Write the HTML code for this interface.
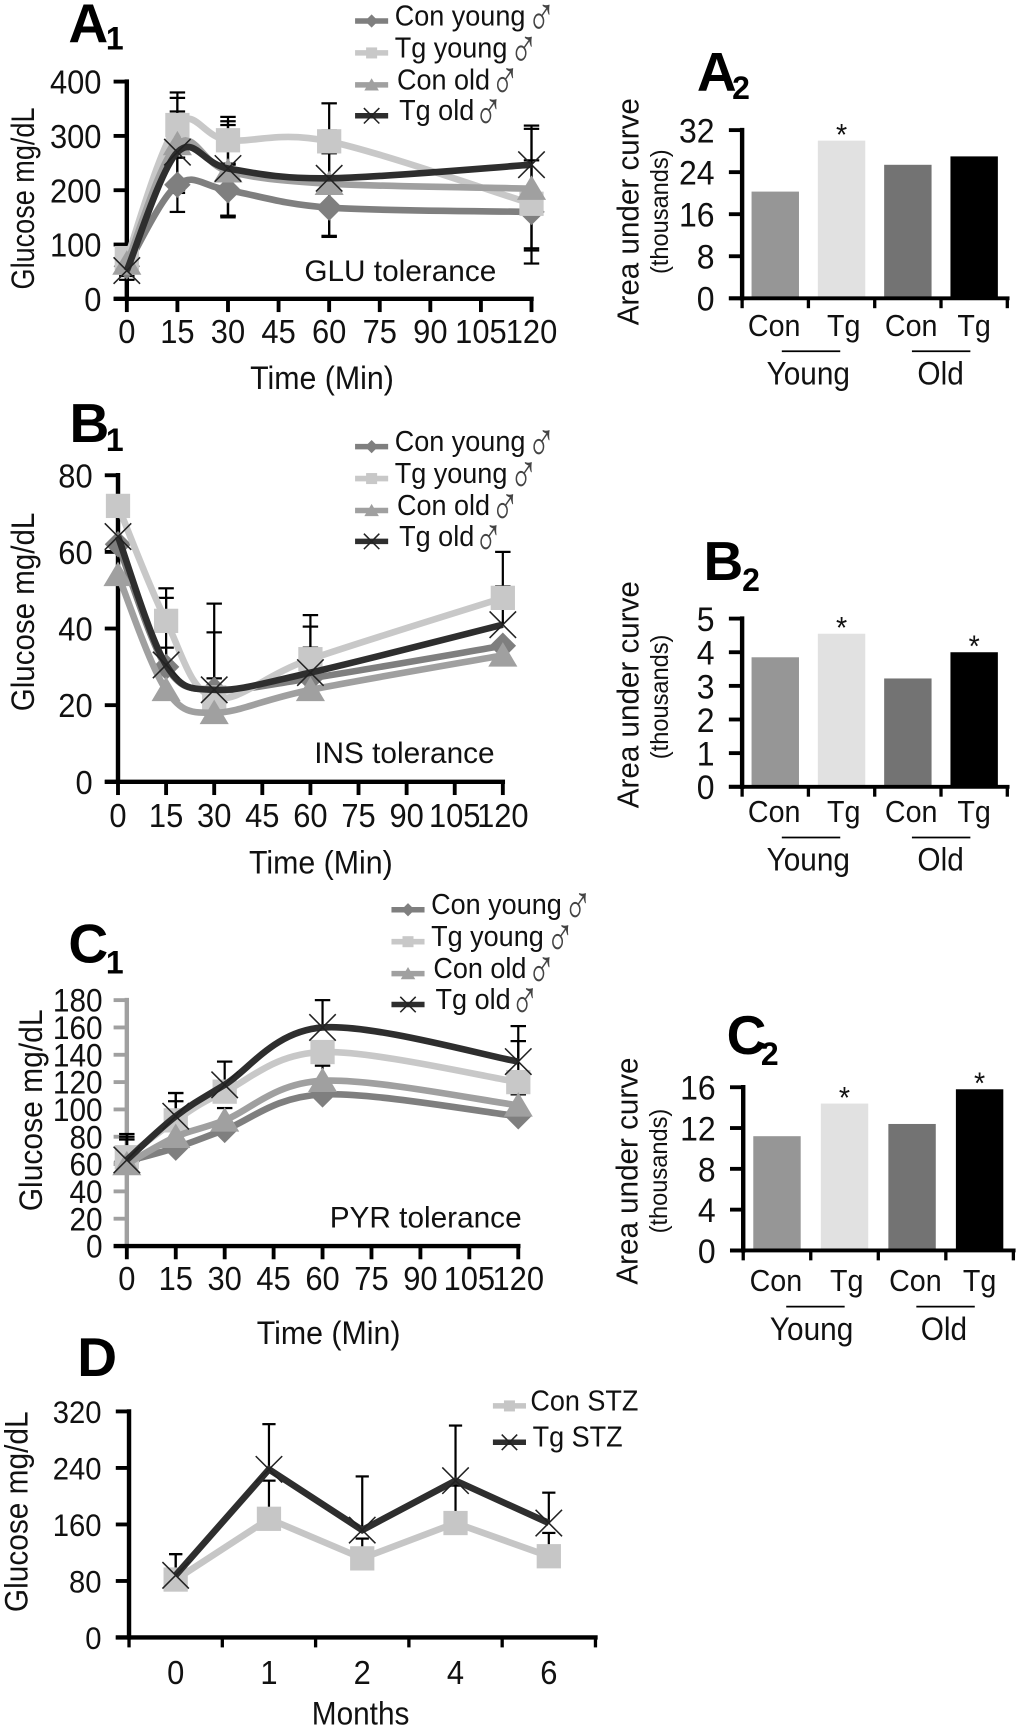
<!DOCTYPE html>
<html lang="en">
<head>
<meta charset="utf-8">
<title>Glucose tolerance figure</title>
<style>
html,body{margin:0;padding:0;background:#fff;}
#figure{display:block;width:1020px;height:1729px;}
text{font-family:"Liberation Sans",Arial,sans-serif;fill:#111;}
.heading{font-weight:bold;fill:#000;}
</style>
</head>
<body>
<svg id="figure" xmlns="http://www.w3.org/2000/svg" viewBox="0 0 925 1568" width="1020" height="1729">
<rect x="0" y="0" width="925" height="1568" fill="#fff"/>
<g><text class="heading" x="62" y="38" font-size="50">A</text><text class="heading" x="96" y="45" font-size="29">1</text></g>
<g><text class="heading" x="632" y="82" font-size="50">A</text><text class="heading" x="664" y="90" font-size="29">2</text></g>
<g><text class="heading" x="63" y="401" font-size="50">B</text><text class="heading" x="96" y="409" font-size="29">1</text></g>
<g><text class="heading" x="638" y="526" font-size="50">B</text><text class="heading" x="673" y="536" font-size="29">2</text></g>
<g><text class="heading" x="62" y="873" font-size="50">C</text><text class="heading" x="96" y="883" font-size="29">1</text></g>
<g><text class="heading" x="659" y="956" font-size="50">C</text><text class="heading" x="690" y="966" font-size="29">2</text></g>
<g><text class="heading" x="70" y="1248" font-size="50">D</text></g>
<text x="276" y="255" font-size="27">GLU tolerance</text>
<text x="285" y="692" font-size="27">INS tolerance</text>
<text x="299" y="1113" font-size="27">PYR tolerance</text>
</svg>
<script>
// Shared categories
const timeTickLabels = [0, 15, 30, 45, 60, 75, 90, 105, 120];
const timePoints = [0, 15, 30, 60, 120];
const barCategories = ['Con', 'Tg', 'Con', 'Tg'];
const barColors = ['#969696', '#e1e1e1', '#737373', '#000000'];
const monthCategories = ['0', '1', '2', '4', '6'];

// Panel A1: GLU tolerance
const a1Ticks = [0, 100, 200, 300, 400];
const a1ConYoung = [60, 210, 200, 168, 160];
const a1TgYoung = [75, 320, 292, 290, 175];
const a1ConOld = [65, 285, 235, 212, 203];
const a1TgOld = [52, 270, 240, 222, 247];
const a1ConYoungErrUp = [15, 50, 47, 50, 95];
const a1ConYoungErrDown = [25, 50, 47, 52, 95];
const a1TgYoungErrUp = [15, 60, 43, 70, 10];
const a1TgYoungErrDown = [15, 60, 43, 22, 10];
const a1ConOldErrUp = [10, 85, 85, 98, 110];
const a1ConOldErrDown = [10, 85, 85, 98, 110];
const a1TgOldErrUp = [10, 75, 87, 48, 72];
const a1TgOldErrDown = [10, 75, 87, 48, 158];

// Panel A2: AUC
const a2Ticks = [0, 8, 16, 24, 32];
const a2Values = [20.3, 30, 25.4, 27];
const a2Significant = [false, true, false, false];

// Panel B1: INS tolerance
const b1Ticks = [0, 20, 40, 60, 80];
const b1ConYoung = [62, 30, 24, 27, 35.5];
const b1TgYoung = [72, 42, 22, 32, 48];
const b1ConOld = [54, 24, 18, 24, 33];
const b1TgOld = [64, 30.5, 24, 28.5, 41];
const b1ConYoungErrUp = [0, 5, 3, 8, 0];
const b1TgYoungErrUp = [0, 8.5, 24.5, 11.5, 12];
const b1ConOldErrUp = [0, 0, 0, 0, 0];
const b1TgOldErrUp = [0, 17.5, 15, 12, 10];

// Panel B2: AUC
const b2Ticks = [0, 1, 2, 3, 4, 5];
const b2Values = [3.85, 4.55, 3.22, 4.0];
const b2Significant = [false, true, false, true];

// Panel C1: PYR tolerance
const c1Ticks = [0, 20, 40, 60, 80, 100, 120, 140, 160, 180];
const c1ConYoung = [62, 72, 85, 111, 95];
const c1TgYoung = [65, 92, 113, 142, 120];
const c1ConOld = [60, 80, 92, 121, 103];
const c1TgOld = [63, 95, 118, 160, 135];
const c1ConYoungErrUp = [16, 0, 0, 0, 0];
const c1TgYoungErrUp = [17, 20, 0, 0, 30];
const c1ConOldErrUp = [20, 26, 9, 11, 8];
const c1TgOldErrUp = [15, 17, 17, 20, 26];

// Panel C2: AUC
const c2Ticks = [0, 4, 8, 12, 16];
const c2Values = [11.2, 14.4, 12.4, 15.8];
const c2Significant = [false, true, false, true];

// Panel D: STZ
const dTicks = [0, 80, 160, 240, 320];
const dConStz = [82, 168, 112, 162, 115];
const dTgStz = [88, 238, 152, 222, 162];
const dConStzErrUp = [36, 54, 28, 53, 33];
const dTgStzErrUp = [30, 64, 76, 78, 43];

const svg = document.getElementById('figure');
const NS = 'http://www.w3.org/2000/svg';
const SQUEEZE = 0.93;
const STYLE = {
  conYoung: { color: '#7f7f7f', marker: 'diamond', label: 'Con young', slug: 'con-young' },
  tgYoung: { color: '#c8c8c8', marker: 'square', label: 'Tg young', slug: 'tg-young' },
  conOld: { color: '#a0a0a0', marker: 'triangle', label: 'Con old', slug: 'con-old' },
  tgOld: { color: '#2e2e2e', marker: 'cross', label: 'Tg old', slug: 'tg-old' },
  conStz: { color: '#c6c6c6', marker: 'square', label: 'Con STZ', slug: 'con-stz' },
  tgStz: { color: '#2e2e2e', marker: 'cross', label: 'Tg STZ', slug: 'tg-stz' }
};

function make(tag, props, parent) {
  const el = document.createElementNS(NS, tag);
  for (const k in props) el.setAttribute(k, props[k]);
  parent.appendChild(el);
  return el;
}

function drawText(str, x, y, size, anchor, name, parent, rotate, length) {
  const t = make('text', { x: x, y: y, 'font-size': size / SQUEEZE, 'text-anchor': anchor }, parent);
  
  
  if (rotate) t.setAttribute('transform', 'rotate(-90 ' + x + ' ' + y + ')');
  t.textContent = str;
  const natural = t.getComputedTextLength();
  t.setAttribute('textLength', length || natural * SQUEEZE);
  t.setAttribute('lengthAdjust', 'spacingAndGlyphs');
  return t;
}

function drawSegment(x1, y1, x2, y2, color, width, name, parent) {
  const l = make('line', { x1: x1, y1: y1, x2: x2, y2: y2, stroke: color, 'stroke-width': width }, parent);
  
  
  return l;
}

function smoothPath(pts) {
  let d = 'M' + pts[0][0] + ' ' + pts[0][1];
  for (let i = 0; i < pts.length - 1; i++) {
    const p0 = pts[Math.max(i - 1, 0)], p1 = pts[i], p2 = pts[i + 1], p3 = pts[Math.min(i + 2, pts.length - 1)];
    const c1x = p1[0] + (p2[0] - p0[0]) / 6, c1y = p1[1] + (p2[1] - p0[1]) / 6;
    const c2x = p2[0] - (p3[0] - p1[0]) / 6, c2y = p2[1] - (p3[1] - p1[1]) / 6;
    d += ' C' + c1x + ' ' + c1y + ' ' + c2x + ' ' + c2y + ' ' + p2[0] + ' ' + p2[1];
  }
  return d;
}

function straightPath(pts) {
  return 'M' + pts.map(function (p) { return p[0] + ' ' + p[1]; }).join(' L');
}

function drawMarker(kind, x, y, s, color, name, parent) {
  let m;
  if (kind === 'diamond') {
    m = make('polygon', { points: [x, y - s, x + s, y, x, y + s, x - s, y].join(','), fill: color }, parent);
  } else if (kind === 'square') {
    m = make('rect', { x: x - s, y: y - s, width: 2 * s, height: 2 * s, fill: color }, parent);
  } else if (kind === 'triangle') {
    m = make('polygon', { points: [x, y - s, x + s * 1.1, y + s * 0.85, x - s * 1.1, y + s * 0.85].join(','), fill: color }, parent);
  } else {
    m = make('path', { d: 'M' + (x - s) + ' ' + (y - s) + ' L' + (x + s) + ' ' + (y + s) + ' M' + (x - s) + ' ' + (y + s) + ' L' + (x + s) + ' ' + (y - s), stroke: '#222', 'stroke-width': 1.4, fill: 'none' }, parent);
  }
  
  
}

function drawYAxis(g, ticks, xAxis, yBase, yTop, maxV, labelEnd, size, color, prefix) {
  drawSegment(xAxis, yBase + 2, xAxis, yTop - 2, color, 4, prefix + '-y-axis', g);
  ticks.forEach(function (v) {
    const y = yBase - (v / maxV) * (yBase - yTop);
    drawSegment(xAxis - 12, y, xAxis, y, color, 3.5, prefix + '-y-tick-' + v, g);
    drawText(String(v), labelEnd, y + size * 0.39, size, 'end', prefix + '-y-tick-label-' + v, g);
  });
}

function drawLineChart(o) {
  const g = make('g', {}, svg);
  
  
  const maxV = o.ticks[o.ticks.length - 1];
  const sy = function (v) { return o.y0 - (v / maxV) * (o.y0 - o.y1); };
  const sx = function (t) { return o.x0 + (t / 120) * (o.x1 - o.x0); };
  drawYAxis(g, o.ticks, o.x0, o.y0, o.y1, maxV, o.labelEnd, o.tickSize, o.axisColor, o.prefix);
  drawSegment(o.x0 - 12, o.y0, o.x1 + 2, o.y0, '#000', 4, o.prefix + '-x-axis', g);
  timeTickLabels.forEach(function (t) {
    drawSegment(sx(t), o.y0, sx(t), o.y0 + 12, '#000', 3.5, o.prefix + '-x-tick-' + t, g);
    drawText(String(t), sx(t), o.xLabelY, 28, 'middle', o.prefix + '-x-tick-label-' + t, g);
  });
  o.series.forEach(function (s) {
    timePoints.forEach(function (t, i) {
      const x = sx(t), y = sy(s.values[i]);
      if (s.up[i] > 0) {
        const top = sy(s.values[i] + s.up[i]);
        drawSegment(x, y, x, top, '#000', 2, o.prefix + '-' + STYLE[s.key].slug + '-error-up-' + t, g);
        drawSegment(x - 7, top, x + 7, top, '#000', 2, o.prefix + '-' + STYLE[s.key].slug + '-error-cap-up-' + t, g);
      }
      if (s.down && s.down[i] > 0) {
        const bottom = sy(s.values[i] - s.down[i]);
        drawSegment(x, y, x, bottom, '#000', 2, o.prefix + '-' + STYLE[s.key].slug + '-error-down-' + t, g);
        drawSegment(x - 7, bottom, x + 7, bottom, '#000', 2, o.prefix + '-' + STYLE[s.key].slug + '-error-cap-down-' + t, g);
      }
    });
  });
  o.series.forEach(function (s) {
    const st = STYLE[s.key];
    const pts = timePoints.map(function (t, i) { return [sx(t), sy(s.values[i])]; });
    const path = make('path', { d: smoothPath(pts), fill: 'none', stroke: st.color, 'stroke-width': 6, 'stroke-linejoin': 'round' }, g);
    
    
    pts.forEach(function (p, i) {
      drawMarker(st.marker, p[0], p[1], st.marker === 'cross' ? 12 : (st.marker === 'square' ? 11 : 12), st.color, o.prefix + '-' + st.slug + '-point-' + timePoints[i], g);
    });
  });
}

function drawLegend(prefix, dx, dy, keys, male, xs, ys, maleXs) {
  const g = make('g', {}, svg);
  
  
  keys.forEach(function (k, i) {
    const st = STYLE[k];
    const lineY = ys[i] + dy - 4;
    const lx1 = 322 + dx, lx2 = 352 + dx;
    drawSegment(lx1, lineY, lx2, lineY, st.color, 5, prefix + '-legend-line-' + st.slug, g);
    drawMarker(st.marker, (lx1 + lx2) / 2, lineY, st.marker === 'square' ? 5 : (st.marker === 'cross' ? 7 : 6), st.color, prefix + '-legend-marker-' + st.slug, g);
    drawText(st.label, xs[i] + dx, ys[i] + dy, 24.5, 'start', prefix + '-legend-label-' + st.slug, g);
    if (male) {
      const sym = make('text', { x: 0, y: 0, 'font-size': 50, 'text-anchor': 'middle', transform: 'translate(' + (maleXs[i] + dx) + ' ' + (ys[i] + dy + 9) + ') scale(0.7 1)' }, g);
      
      
      sym.setAttribute('style', 'font-family:"Liberation Sans","DejaVu Sans",sans-serif;fill:#444;');
      sym.textContent = '\u2642';
    }
  });
}

function drawBarChart(o) {
  const g = make('g', {}, svg);
  
  
  const maxV = o.ticks[o.ticks.length - 1];
  const sy = function (v) { return o.y0 - (v / maxV) * (o.y0 - o.y1); };
  const band = (o.x1 - o.x0) / o.values.length;
  const nudges = [-1, 2, 3, 0];
  o.values.forEach(function (v, i) {
    const cx = o.x0 + band * (i + 0.5);
    const r = make('rect', { x: cx - 21.5, y: sy(v), width: 43, height: o.y0 - sy(v), fill: barColors[i] }, g);
    
    
    drawText(barCategories[i], cx + nudges[i], o.y0 + 34 + o.labelDy, 26, 'middle', o.prefix + '-x-label-' + i, g);
    if (o.significant[i]) {
      drawText('*', cx, sy(v) + 4, 26, 'middle', o.prefix + '-significance-star-' + i, g);
    }
  });
  drawYAxis(g, o.ticks, o.x0, o.y0, o.y1, maxV, o.x0 - 25, 29, '#000', o.prefix);
  drawSegment(o.x0 - 12, o.y0, o.x1 + 2, o.y0, '#000', 3.5, o.prefix + '-x-axis', g);
  for (let i = 0; i <= o.values.length; i++) {
    const tx = o.x0 + band * i;
    drawSegment(tx, o.y0, tx, o.y0 + 9, '#000', 3, o.prefix + '-x-tick-' + i, g);
  }
  const cy = o.y0 + 48 + o.labelDy;
  drawSegment(o.x0 + o.lineDx, cy, o.x0 + o.lineDx + 53, cy, '#000', 1.6, o.prefix + '-young-group-line', g);
  drawSegment(o.x0 + o.lineDx + 118, cy, o.x0 + o.lineDx + 171, cy, '#000', 1.6, o.prefix + '-old-group-line', g);
  drawText('Young', o.x0 + 60 + o.labelDx, cy + 30, 27, 'middle', o.prefix + '-young-group-label', g);
  drawText('Old', o.x0 + 180 + o.labelDx, cy + 30, 27, 'middle', o.prefix + '-old-group-label', g);
  drawText('Area under curve', o.titleX, o.titleY, 26, 'middle', o.prefix + '-y-axis-title', g, true, 206);
  drawText('(thousands)', o.titleX + 27, o.titleY + o.subDy, 21, 'middle', o.prefix + '-y-axis-subtitle', g, true, 113);
}

function drawStzChart() {
  const g = make('g', {}, svg);
  
  
  const x0 = 117, x1 = 540, y0 = 1485, y1 = 1280, maxV = 320;
  const sy = function (v) { return y0 - (v / maxV) * (y0 - y1); };
  const band = (x1 - x0) / monthCategories.length;
  const sx = function (i) { return x0 + band * (i + 0.5); };
  drawYAxis(g, dTicks, x0, y0, y1, maxV, 92, 26.5, '#000', 'd');
  drawSegment(x0 - 12, y0, x1 + 2, y0, '#000', 4, 'd-x-axis', g);
  for (let i = 0; i <= monthCategories.length; i++) {
    drawSegment(x0 + band * i, y0, x0 + band * i, y0 + 9, '#000', 3, 'd-x-tick-' + i, g);
  }
  monthCategories.forEach(function (c, i) {
    drawText(c, sx(i), 1527, 28, 'middle', 'd-x-tick-label-' + c, g);
  });
  [['conStz', dConStz, dConStzErrUp], ['tgStz', dTgStz, dTgStzErrUp]].forEach(function (row) {
    const st = STYLE[row[0]];
    row[1].forEach(function (v, i) {
      const top = sy(v + row[2][i]);
      drawSegment(sx(i), sy(v), sx(i), top, '#000', 2, 'd-' + st.slug + '-error-bar-' + i, g);
      drawSegment(sx(i) - 6, top, sx(i) + 6, top, '#000', 2, 'd-' + st.slug + '-error-cap-' + i, g);
    });
  });
  [['conStz', dConStz], ['tgStz', dTgStz]].forEach(function (row) {
    const st = STYLE[row[0]];
    const pts = row[1].map(function (v, i) { return [sx(i), sy(v)]; });
    const path = make('path', { d: straightPath(pts), fill: 'none', stroke: st.color, 'stroke-width': 6 }, g);
    
    
    pts.forEach(function (p, i) {
      drawMarker(st.marker, p[0], p[1], st.marker === 'cross' ? 12 : 11, st.color, 'd-' + st.slug + '-point-' + i, g);
    });
  });
}

drawLineChart({
  prefix: 'a1', x0: 115, x1: 482, y0: 271, y1: 74, ticks: a1Ticks, labelEnd: 92, tickSize: 28, axisColor: '#000', xLabelY: 311,
  series: [
    { key: 'conYoung', values: a1ConYoung, up: a1ConYoungErrUp, down: a1ConYoungErrDown },
    { key: 'tgYoung', values: a1TgYoung, up: a1TgYoungErrUp, down: a1TgYoungErrDown },
    { key: 'conOld', values: a1ConOld, up: a1ConOldErrUp, down: a1ConOldErrDown },
    { key: 'tgOld', values: a1TgOld, up: a1TgOldErrUp, down: a1TgOldErrDown }
  ]
});
drawLineChart({
  prefix: 'b1', x0: 107, x1: 456, y0: 709, y1: 431, ticks: b1Ticks, labelEnd: 84, tickSize: 28, axisColor: '#000', xLabelY: 750,
  series: [
    { key: 'conYoung', values: b1ConYoung, up: b1ConYoungErrUp },
    { key: 'tgYoung', values: b1TgYoung, up: b1TgYoungErrUp },
    { key: 'conOld', values: b1ConOld, up: b1ConOldErrUp },
    { key: 'tgOld', values: b1TgOld, up: b1TgOldErrUp }
  ]
});
drawLineChart({
  prefix: 'c1', x0: 115, x1: 470, y0: 1130, y1: 907, ticks: c1Ticks, labelEnd: 93, tickSize: 27, axisColor: '#a0a0a0', xLabelY: 1170,
  series: [
    { key: 'conYoung', values: c1ConYoung, up: c1ConYoungErrUp },
    { key: 'tgYoung', values: c1TgYoung, up: c1TgYoungErrUp },
    { key: 'conOld', values: c1ConOld, up: c1ConOldErrUp },
    { key: 'tgOld', values: c1TgOld, up: c1TgOldErrUp }
  ]
});
drawStzChart();

drawBarChart({ prefix: 'a2', x0: 673, x1: 913.5, y0: 270.5, y1: 118, ticks: a2Ticks, values: a2Values, significant: a2Significant, titleX: 579, titleY: 192, subDy: 0, labelDy: 0, labelDx: 0, lineDx: 36 });
drawBarChart({ prefix: 'b2', x0: 673, x1: 913.5, y0: 713.5, y1: 561, ticks: b2Ticks, values: b2Values, significant: b2Significant, titleX: 579, titleY: 630, subDy: 2, labelDy: -2, labelDx: 0, lineDx: 36 });
drawBarChart({ prefix: 'c2', x0: 674, x1: 919, y0: 1134, y1: 986, ticks: c2Ticks, values: c2Values, significant: c2Significant, titleX: 578, titleY: 1062, subDy: 0, labelDy: 3, labelDx: 2, lineDx: 39 });

const legendKeys = ['conYoung', 'tgYoung', 'conOld', 'tgOld'];
const legendTextX = [358, 358, 360, 362];
const legendTextY = [23, 52, 81, 109];
const legendMaleX = [491, 475, 458, 443];
drawLegend('a1', 0, 0, legendKeys, true, legendTextX, legendTextY, legendMaleX);
drawLegend('b1', 0, 386, legendKeys, true, legendTextX, legendTextY, legendMaleX);
drawLegend('c1', 33, 806, legendKeys, true, legendTextX, legendTextY, legendMaleX);
drawLegend('d', 125, 0, ['conStz', 'tgStz'], false, [356, 358], [1279, 1312], []);

const axisTitles = svg;
drawText('Glucose mg/dL', 31, 180, 27, 'middle', 'a1-y-axis-title', axisTitles, true, 165);
drawText('Time (Min)', 292, 353, 27.5, 'middle', 'a1-x-axis-title', axisTitles);
drawText('Glucose mg/dL', 31, 555, 27, 'middle', 'b1-y-axis-title', axisTitles, true, 180);
drawText('Time (Min)', 291, 792, 27.5, 'middle', 'b1-x-axis-title', axisTitles);
drawText('Glucose mg/dL', 38, 1007, 27, 'middle', 'c1-y-axis-title', axisTitles, true, 183);
drawText('Time (Min)', 298, 1219, 27.5, 'middle', 'c1-x-axis-title', axisTitles);
drawText('Glucose mg/dL', 25, 1371, 27, 'middle', 'd-y-axis-title', axisTitles, true, 182);
drawText('Months', 327, 1564, 27, 'middle', 'd-x-axis-title', axisTitles);
</script>
</body>
</html>
